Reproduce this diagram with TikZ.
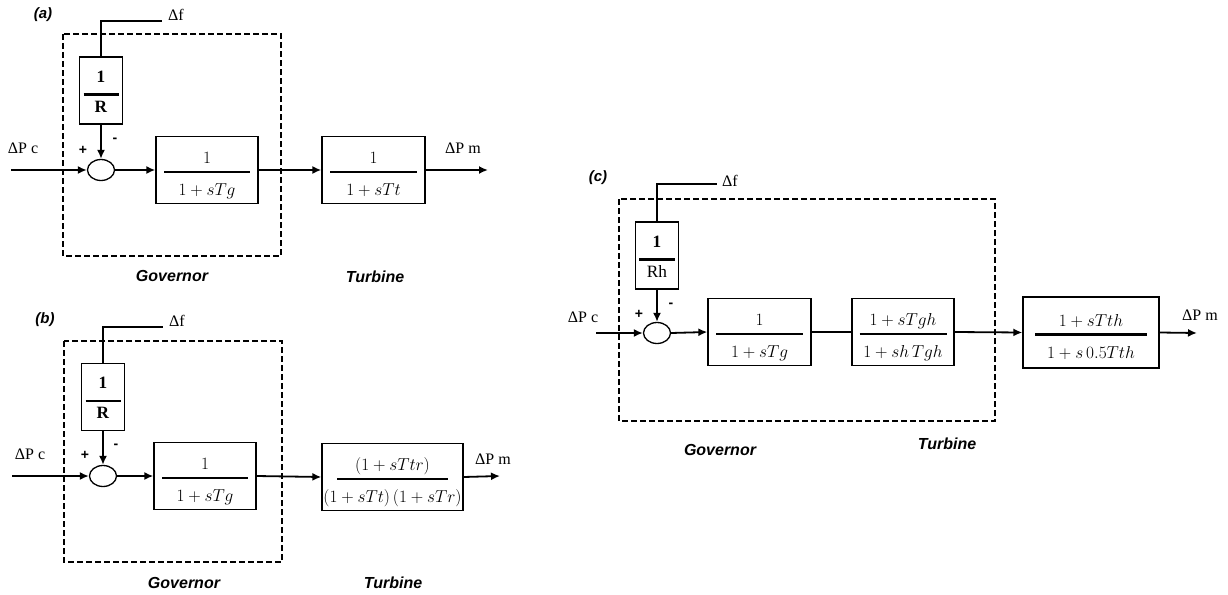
\documentclass[tikz,border=0pt]{standalone}
\usepackage{amsmath}
\usepackage{fontspec}
\setmainfont{Liberation Serif}
\newfontfamily\sflab{Liberation Sans}
\usetikzlibrary{shapes.geometric, positioning, arrows.meta}

% fraction with a thick bar of given width
\newcommand{\gfrac}[3]{$\genfrac{}{}{2.4pt}{1}{\makebox[#1]{#2}\rule[-5pt]{0pt}{5pt}}{\rule{0pt}{20pt}\makebox[#1]{#3}}$}
\newcommand{\rfrac}[3]{$\genfrac{}{}{2.4pt}{1}{\makebox[#1]{#2}\rule[-9pt]{0pt}{9pt}}{\rule{0pt}{14pt}\makebox[#1]{#3}}$}

\tikzset{
  block/.style={draw, line width=1.3pt, inner sep=0pt, font=\LARGE, text height=40pt, text depth=27pt},
  fbblock/.style={draw, line width=1.3pt, inner sep=0pt, font=\LARGE, minimum width=43pt, text height=42pt, text depth=25pt},
  summer/.style={draw, ellipse, line width=1.3pt, inner sep=0pt, minimum width=27pt, minimum height=21pt},
  sig/.style={->, line width=1.8pt},
  wire/.style={line width=1.8pt},
  govbox/.style={dash pattern=on 6pt off 3pt, line width=1.8pt},
  sign/.style={font=\sflab\bfseries\fontsize{14}{16}\selectfont},
  lbl/.style={font=\fontsize{16}{19}\selectfont},
  partname/.style={font=\sflab\bfseries\itshape\fontsize{16}{19}\selectfont},
  panel/.style={font=\sflab\bfseries\itshape\fontsize{15}{18}\selectfont}
}

\begin{document}
\begin{tikzpicture}[>={Latex[length=9pt, width=8pt]}, x=1pt, y=-1pt]
    \useasboundingbox (0,0) rectangle (1228,594);

    % (a) reheat-free steam unit
    \node[panel] (pa) at (43,15) {(a)};
    \draw[govbox] (63,34) rectangle (281,256);
    \node[fbblock] (ra) at (101,90.5) {\rfrac{35pt}{\textbf{1}}{\textbf{R}}};
    \node[summer] (sa) at (101,170) {};
    \node[block, minimum width=102pt] (ga) at (207,170) {\gfrac{86pt}{$1$}{$1+sTg$}};
    \node[block, minimum width=103pt] (ta) at (373.5,170) {\gfrac{87pt}{$1$}{$1+sTt$}};
    \coordinate (fa) at (162,21);
    \coordinate (ina) at (11,170);
    \coordinate (outa) at (488,170);
    \node[lbl] (dfa) at (176,15) {Δf};
    \node[lbl] (pca) at (23,148) {ΔP c};
    \node[lbl] (pma) at (463,148) {ΔP m};
    \node[sign] (plusa) at (83,150) {+};
    \node[sign] (minusa) at (115,140) {-};
    \draw[wire] (ra.north) |- (fa);
    \draw[sig] (ra.south) -- (sa.north);
    \draw[sig] (ina) -- (sa.west);
    \draw[sig] (sa.east) -- (ga.west);
    \draw[sig] (ga.east) -- (ta.west);
    \draw[sig] (ta.east) -- (outa);
    \node[partname] (gova) at (172,276) {Governor};
    \node[partname] (tura) at (375,277) {Turbine};

    % (b) reheat steam unit
    \node[panel] (pb) at (45,320) {(b)};
    \draw[govbox] (64,341) rectangle (282,562);
    \node[fbblock] (rb) at (103,397) {\rfrac{35pt}{\textbf{1}}{\textbf{R}}};
    \node[summer] (sb) at (103,476) {};
    \node[block, minimum width=102pt] (gb) at (205,476) {\gfrac{86pt}{$1$}{$1+sTg$}};
    \node[block, minimum width=141pt] (tb) at (392.5,477) {\gfrac{111pt}{$(1+sTtr)$}{$(1+sTt)\,(1+sTr)$}};
    \coordinate (fb) at (163,327);
    \coordinate (inb) at (12,476);
    \coordinate (outb) at (500,476);
    \node[lbl] (dfb) at (177,321) {Δf};
    \node[lbl] (pcb) at (30,454) {ΔP c};
    \node[lbl] (pmb) at (493,459) {ΔP m};
    \node[sign] (plusb) at (85,455) {+};
    \node[sign] (minusb) at (116,446) {-};
    \draw[wire] (rb.north) |- (fb);
    \draw[sig] (rb.south) -- (sb.north);
    \draw[sig] (inb) -- (sb.west);
    \draw[sig] (sb.east) -- (gb.west);
    \draw[sig] (gb.east) -- (tb.west);
    \draw[sig] (tb.east) -- (outb);
    \node[partname] (govb) at (184,583) {Governor};
    \node[partname] (turb) at (393,583) {Turbine};

    % (c) hydro unit
    \node[panel] (pc) at (598,178) {(c)};
    \draw[govbox] (619,199) rectangle (995,421);
    \node[fbblock] (rc) at (657,255.5) {\rfrac{36pt}{\textbf{1}}{Rh}};
    \node[summer] (sc) at (657,333) {};
    \node[block, minimum width=103pt] (gc) at (759.5,332) {\gfrac{87pt}{$1$}{$1+sTg$}};
    \node[block, minimum width=102pt] (hc) at (903,332) {\gfrac{87pt}{$1+sTgh$}{$1+sh\,Tgh$}};
    \node[block, minimum width=136pt, text height=42pt, text depth=29pt] (tc) at (1091,332.5) {\gfrac{112pt}{$1+sTth$}{$1+s\,0.5Tth$}};
    \coordinate (fc) at (717,184);
    \coordinate (inc) at (596,333);
    \coordinate (outc) at (1197,333);
    \node[lbl] (dfc) at (730,181) {Δf};
    \node[lbl] (pcc) at (583,317) {ΔP c};
    \node[lbl] (pmc) at (1200,315) {ΔP m};
    \node[sign] (plusc) at (639,314) {+};
    \node[sign] (minusc) at (671,305) {-};
    \draw[wire] (rc.north) |- (fc);
    \draw[sig] (rc.south) -- (sc.north);
    \draw[sig] (inc) -- (sc.west);
    \draw[sig] (sc.east) -- (gc.west);
    \draw[wire] (gc.east) -- (hc.west);
    \draw[sig] (hc.east) -- (tc.west);
    \draw[sig] (tc.east) -- (outc);
    \node[partname] (govc) at (720,450) {Governor};
    \node[partname] (turc) at (947,444) {Turbine};
\end{tikzpicture}
\end{document}
